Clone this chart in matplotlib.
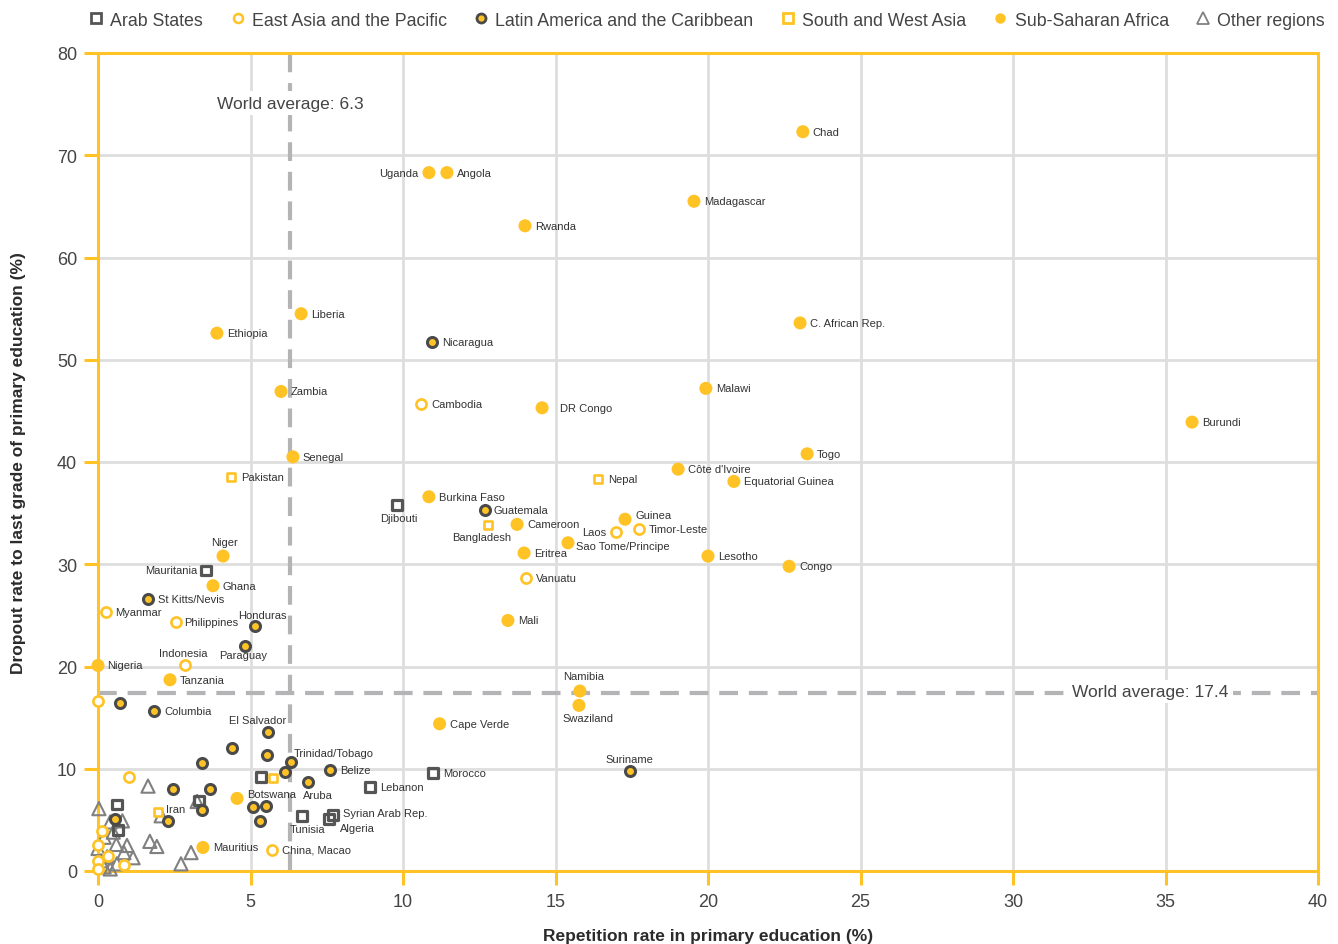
import matplotlib
matplotlib.use('Agg')
import matplotlib.pyplot as plt
from matplotlib.lines import Line2D

plt.rcParams['font.family'] = ['Liberation Sans', 'DejaVu Sans']

# ---------------- data ----------------
# Repetition rate in primary education (%) = x ; Dropout rate to last grade (%) = y
arab_names = ['Djibouti', 'Mauritania', 'Morocco', 'Lebanon', 'Tunisia',
              'Syrian Arab Rep.', 'Algeria', '', '', '', '']
arab_x = [9.80, 3.54, 10.98, 8.92, 6.69, 7.70, 7.57, 5.34, 3.31, 0.62, 0.66]
arab_y = [35.8, 29.4, 9.6, 8.2, 5.4, 5.5, 5.1, 9.2, 6.9, 6.5, 4.0]

eap_names = ['Cambodia', 'Laos', 'Timor-Leste', 'Vanuatu', 'Myanmar', 'Philippines',
             'Indonesia', 'China, Macao', '', '', '', '', '', '', '', '']
eap_x = [10.59, 16.98, 17.74, 14.03, 0.26, 2.56, 2.85, 5.70,
         0.0, 1.02, 0.13, 0.0, 0.33, 0.85, 0.0, 0.0]
eap_y = [45.7, 33.2, 33.4, 28.7, 25.3, 24.4, 20.1, 2.1,
         16.6, 9.2, 3.9, 2.5, 1.5, 0.6, 1.0, 0.2]

lac_names = ['Nicaragua', 'Guatemala', 'St Kitts/Nevis', 'Honduras', 'Paraguay',
             'Columbia', 'El Salvador', 'Trinidad/Tobago', 'Belize', 'Aruba', 'Suriname',
             '', '', '', '', '', '', '', '', '', '', '', '', '']
lac_x = [10.95, 12.69, 1.64, 5.15, 4.82, 1.84, 5.57, 6.33, 7.61, 6.89, 17.44,
         0.72, 4.39, 3.41, 5.54, 6.13, 2.46, 3.67, 3.41, 5.08, 5.51, 5.31, 2.30, 0.56]
lac_y = [51.7, 35.3, 26.6, 24.0, 22.0, 15.6, 13.6, 10.7, 9.9, 8.7, 9.8,
         16.4, 12.0, 10.6, 11.3, 9.7, 8.0, 8.0, 6.0, 6.3, 6.4, 4.9, 4.9, 5.1]

swa_names = ['Pakistan', 'Nepal', 'Bangladesh', 'Iran', '']
swa_x = [4.36, 16.39, 12.79, 1.97, 5.74]
swa_y = [38.5, 38.3, 33.8, 5.8, 9.1]

ssa_names = ['Chad', 'Uganda', 'Angola', 'Madagascar', 'Rwanda', 'Liberia', 'Ethiopia',
             'C. African Rep.', 'Zambia', 'Malawi', 'DR Congo', 'Burundi', 'Senegal', 'Togo',
             "Côte d'Ivoire", 'Equatorial Guinea', 'Burkina Faso', 'Cameroon', 'Guinea',
             'Sao Tome/Principe', 'Eritrea', 'Lesotho', 'Congo', 'Niger', 'Ghana', 'Mali',
             'Nigeria', 'Tanzania', 'Namibia', 'Swaziland', 'Cape Verde', 'Botswana', 'Mauritius']
ssa_x = [23.11, 10.85, 11.44, 19.54, 14.00, 6.66, 3.90, 23.02, 6.00, 19.93, 14.56, 35.87,
         6.39, 23.25, 19.02, 20.85, 10.85, 13.74, 17.28, 15.41, 13.97, 20.00, 22.66, 4.10,
         3.77, 13.44, 0.0, 2.36, 15.80, 15.77, 11.20, 4.56, 3.44]
ssa_y = [72.3, 68.3, 68.3, 65.5, 63.1, 54.5, 52.6, 53.6, 46.9, 47.2, 45.3, 43.9,
         40.5, 40.8, 39.3, 38.1, 36.6, 33.9, 34.4, 32.1, 31.1, 30.8, 29.8, 30.8,
         27.9, 24.5, 20.1, 18.7, 17.6, 16.2, 14.4, 7.1, 2.3]

other_x = [1.64, 0.03, 0.40, 0.80, 2.07, 3.25, 1.70, 1.93, 3.05, 2.72, 1.15, 0.95,
           0.20, 0.00, 0.60, 0.30, 0.62, 0.20, 0.50, 0.10, 0.85, 0.40]
other_y = [8.3, 6.1, 4.8, 4.9, 5.4, 6.8, 2.9, 2.4, 1.8, 0.7, 1.3, 2.5,
           3.3, 2.2, 2.6, 1.4, 0.7, 0.4, 3.8, 1.0, 1.8, 0.2]

world_avg_repetition = 6.3
world_avg_dropout = 17.4

legend_labels = ['Arab States', 'East Asia and the Pacific', 'Latin America and the Caribbean',
                 'South and West Asia', 'Sub-Saharan Africa', 'Other regions']
x_ticks = [0, 5, 10, 15, 20, 25, 30, 35, 40]
y_ticks = [0, 10, 20, 30, 40, 50, 60, 70, 80]

# ---------------- style ----------------
YEL = '#FFC325'
DARK = '#4a4a4a'
SQ = '#555555'
TRI = '#808080'
GRID = '#dedede'
TXT = '#333333'

# label placement (pixel offsets from the point, ha, va)
R = (10, 0, 'left', 'center')
place = {
    'Uganda': (-11, 0, 'right', 'center'), 'Laos': (-10, 0, 'right', 'center'),
    'Mauritania': (-9, 0, 'right', 'center'),
    'Guinea': (10, 4, 'left', 'center'), 'Sao Tome/Principe': (8, -3, 'left', 'center'),
    'Niger': (1, 14, 'center', 'center'), 'Namibia': (4, 15, 'center', 'center'),
    'Swaziland': (9, -13, 'center', 'center'), 'Botswana': (10, 4, 'left', 'center'),
    'Honduras': (7, 11, 'center', 'center'), 'Paraguay': (-2, -9, 'center', 'center'),
    'El Salvador': (-10, 12, 'center', 'center'), 'Trinidad/Tobago': (3, 9, 'left', 'center'),
    'Aruba': (10, -13, 'center', 'center'), 'Suriname': (0, 12, 'center', 'center'),
    'Djibouti': (2, -13, 'center', 'center'), 'Tunisia': (6, -13, 'center', 'center'),
    'Algeria': (11, -9, 'left', 'center'), 'Bangladesh': (-6, -12, 'center', 'center'),
    'Indonesia': (-2, 12, 'center', 'center'), 'DR Congo': (18, 0, 'left', 'center'),
    'Syrian Arab Rep.': (10, 2, 'left', 'center'), 'Guatemala': (8, 0, 'left', 'center'),
    'Iran': (8, 3, 'left', 'center'), 'Nigeria': (9, 0, 'left', 'center'),
    'Myanmar': (9, 0, 'left', 'center'), 'Philippines': (8, 0, 'left', 'center'),
}

W, H = 1338, 945
fig = plt.figure(figsize=(W / 100, H / 100), dpi=100)
ax = fig.add_axes([98 / W, 1 - 872 / H, 1220 / W, 818 / H])
ax.set_xlim(0, 40)
ax.set_ylim(0, 80)
ax.set_xticks(x_ticks)
ax.set_yticks(y_ticks)
ax.grid(True, color=GRID, lw=2.0, zorder=0)
ax.set_axisbelow(True)
for s in ax.spines.values():
    s.set_color(YEL)
    s.set_linewidth(2.2)
    s.set_zorder(1.5)
ax.tick_params(color=YEL, width=2.2, length=10, labelsize=13, labelcolor='#444444')
ax.tick_params(axis='x', pad=6)
ax.tick_params(axis='y', pad=5)

ax.axvline(world_avg_repetition, color='#b4b4b6', lw=3, ls=(0, (4.5, 2.6)), zorder=1)
ax.axhline(world_avg_dropout, color='#b4b4b6', lw=3, ls=(0, (4.5, 2.6)), zorder=1)
bb = dict(facecolor='white', edgecolor='none', pad=3)
ax.text(world_avg_repetition, 75.1, 'World average: 6.3', ha='center', va='center',
        fontsize=12.5, color='#444444', bbox=bb, zorder=2)
ax.text(34.5, 17.55, 'World average: 17.4', ha='center', va='center',
        fontsize=12.5, color='#444444', bbox=bb, zorder=2)

ax.scatter(other_x, other_y, marker='^', s=9.5 ** 2, facecolors='none', edgecolors=TRI,
           linewidths=1.5, zorder=3, clip_on=False)
ax.scatter(arab_x, arab_y, marker='s', s=7 ** 2, facecolors='none', edgecolors=SQ,
           linewidths=2.3, zorder=4, clip_on=False)
ax.scatter(swa_x, swa_y, marker='s', s=6 ** 2, facecolors='white', edgecolors=YEL,
           linewidths=1.9, zorder=4, clip_on=False)
ax.scatter(eap_x, eap_y, marker='o', s=7.3 ** 2, facecolors='white', edgecolors=YEL,
           linewidths=1.9, zorder=5, clip_on=False)
ax.scatter(lac_x, lac_y, marker='o', s=7.2 ** 2, facecolors=YEL, edgecolors=DARK,
           linewidths=2.2, zorder=5, clip_on=False)
ax.scatter(ssa_x, ssa_y, marker='o', s=9.4 ** 2, facecolors=YEL, edgecolors='none',
           zorder=5, clip_on=False)

px2pt = 0.72
for names, xs, ys in [(arab_names, arab_x, arab_y), (eap_names, eap_x, eap_y),
                      (lac_names, lac_x, lac_y), (swa_names, swa_x, swa_y),
                      (ssa_names, ssa_x, ssa_y)]:
    for n, x, y in zip(names, xs, ys):
        if not n:
            continue
        dx, dy, ha, va = place.get(n, R)
        ax.annotate(n, (x, y), xytext=(dx * px2pt, dy * px2pt), textcoords='offset points',
                    ha=ha, va=va, fontsize=8, color=TXT, zorder=6)

ax.set_xlabel('Repetition rate in primary education (%)', fontsize=12.5, fontweight='bold',
              color='#2b2b2b', labelpad=13)
ax.set_ylabel('Dropout rate to last grade of primary education (%)', fontsize=12.5,
              fontweight='bold', color='#2b2b2b', labelpad=22)

handles = [
    Line2D([], [], ls='none', marker='s', ms=6.5, mfc='white', mec=SQ, mew=2),
    Line2D([], [], ls='none', marker='o', ms=6.5, mfc='white', mec=YEL, mew=1.8),
    Line2D([], [], ls='none', marker='o', ms=6.5, mfc=YEL, mec=DARK, mew=2),
    Line2D([], [], ls='none', marker='s', ms=6.5, mfc='white', mec=YEL, mew=2),
    Line2D([], [], ls='none', marker='o', ms=7.5, mfc=YEL, mec='none'),
    Line2D([], [], ls='none', marker='^', ms=9, mfc='none', mec=TRI, mew=1.3),
]
fig.legend(handles, legend_labels, loc='center', ncol=6, mode='expand', frameon=False,
           bbox_to_anchor=(90 / W, 1 - 33 / H, 1235 / W, 24 / H), fontsize=12.8,
           handlelength=0.7, handletextpad=0.45, borderaxespad=0, borderpad=0,
           labelcolor='#444444')

fig.savefig('out.png', dpi=100)
